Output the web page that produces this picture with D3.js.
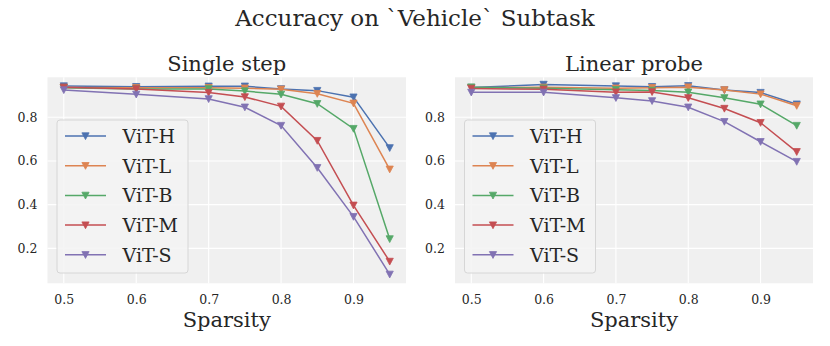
<!DOCTYPE html>
<html><head><meta charset="utf-8">
<script src="https://cdn.jsdelivr.net/npm/d3@7"></script>
<style>body{margin:0;background:#fff;} svg{display:block;font-family:"DejaVu Serif",serif;}</style>
</head><body>
<svg id="c" width="830" height="346"></svg>
<script>
const sparsity = [0.5, 0.6, 0.7, 0.75, 0.8, 0.85, 0.9, 0.95];
const models = ["ViT-H", "ViT-L", "ViT-B", "ViT-M", "ViT-S"];
const colors = ["#4C72B0", "#DD8452", "#55A868", "#C44E52", "#8172B3"];
const xTicks = [0.5, 0.6, 0.7, 0.8, 0.9];
const yTicks = [0.2, 0.4, 0.6, 0.8];
const panelTitles = ["Single step", "Linear probe"];
const singleStep = {
  "ViT-H": [0.943, 0.940, 0.942, 0.942, 0.930, 0.922, 0.892, 0.660],
  "ViT-L": [0.936, 0.935, 0.935, 0.933, 0.928, 0.908, 0.864, 0.562],
  "ViT-B": [0.935, 0.930, 0.930, 0.920, 0.905, 0.862, 0.748, 0.243],
  "ViT-M": [0.937, 0.930, 0.913, 0.893, 0.850, 0.693, 0.397, 0.140],
  "ViT-S": [0.925, 0.905, 0.884, 0.846, 0.762, 0.569, 0.345, 0.081]
};
const linearProbe = {
  "ViT-H": [0.936, 0.950, 0.943, 0.940, 0.944, 0.925, 0.913, 0.860],
  "ViT-L": [0.935, 0.937, 0.933, 0.935, 0.938, 0.925, 0.906, 0.853],
  "ViT-B": [0.938, 0.933, 0.926, 0.923, 0.915, 0.889, 0.860, 0.762],
  "ViT-M": [0.932, 0.928, 0.915, 0.916, 0.889, 0.840, 0.775, 0.642],
  "ViT-S": [0.914, 0.914, 0.889, 0.875, 0.846, 0.780, 0.688, 0.597]
};
const panelData = [singleStep, linearProbe];

const svg = d3.select("#c");
svg.append("text").attr("x", 415).attr("y", 26).attr("text-anchor", "middle")
  .attr("font-size", 23).attr("fill", "#262626").text("Accuracy on `Vehicle` Subtask");

const plotTop = 77.3, plotBottom = 283.3;
const panels = [{x0: 47.5, x1: 406}, {x0: 455, x1: 813}];
const y = d3.scaleLinear().domain([0.04, 0.983]).range([plotBottom, plotTop]);
const tri = "M-3.6,-3.2L3.6,-3.2L0,3.6Z";

panels.forEach((p, pi) => {
  const x = d3.scaleLinear().domain([0.4775, 0.9725]).range([p.x0, p.x1]);
  const g = svg.append("g");
  g.append("rect").attr("x", p.x0).attr("y", plotTop).attr("width", p.x1 - p.x0).attr("height", plotBottom - plotTop).attr("fill", "#f0f0f0");
  g.selectAll(".gx").data(xTicks).join("line").attr("x1", d => x(d)).attr("x2", d => x(d))
    .attr("y1", plotTop).attr("y2", plotBottom).attr("stroke", "#fff").attr("stroke-width", 1.1);
  g.selectAll(".gy").data(yTicks).join("line").attr("y1", d => y(d)).attr("y2", d => y(d))
    .attr("x1", p.x0).attr("x2", p.x1).attr("stroke", "#fff").attr("stroke-width", 1.1);
  const xa = g.append("g").attr("transform", `translate(0,${plotBottom})`)
    .call(d3.axisBottom(x).tickValues(xTicks).tickSize(0).tickPadding(12).tickFormat(d3.format(".1f")));
  xa.select(".domain").remove();
  xa.selectAll("text").attr("font-size", 12.5).attr("fill", "#262626").attr("font-family", "DejaVu Serif");
  const ya = g.append("g").attr("transform", `translate(${p.x0},0)`)
    .call(d3.axisLeft(y).tickValues(yTicks).tickSize(0).tickPadding(10).tickFormat(d3.format(".1f")));
  ya.select(".domain").remove();
  ya.selectAll("text").attr("font-size", 12.5).attr("fill", "#262626").attr("font-family", "DejaVu Serif");

  g.append("text").attr("x", (p.x0 + p.x1) / 2).attr("y", 71).attr("text-anchor", "middle")
    .attr("font-size", 21).attr("fill", "#262626").text(panelTitles[pi]);
  g.append("text").attr("x", (p.x0 + p.x1) / 2).attr("y", 327).attr("text-anchor", "middle")
    .attr("font-size", 21).attr("fill", "#262626").text("Sparsity");

  const data = panelData[pi];
  const line = d3.line().x((d, i) => x(sparsity[i])).y(d => y(d));
  models.forEach((m, mi) => {
    g.append("path").datum(data[m]).attr("d", line).attr("fill", "none")
      .attr("stroke", colors[mi]).attr("stroke-width", 1.5);
    g.selectAll(null).data(data[m]).join("path")
      .attr("transform", (d, i) => `translate(${x(sparsity[i])},${y(d)})`)
      .attr("d", tri).attr("fill", colors[mi]).attr("stroke", colors[mi]).attr("stroke-width", 0.8);
  });

  const lx = p.x0 + 9.5, ly = 120;
  const lg = g.append("g");
  lg.append("rect").attr("x", lx).attr("y", ly).attr("width", 131).attr("height", 153).attr("rx", 3)
    .attr("fill", "#f3f3f3").attr("fill-opacity", 0.85).attr("stroke", "#d6d6d6").attr("stroke-width", 1);
  models.forEach((m, mi) => {
    const cy = 136 + mi * 29.7;
    lg.append("line").attr("x1", lx + 8).attr("x2", lx + 49).attr("y1", cy).attr("y2", cy)
      .attr("stroke", colors[mi]).attr("stroke-width", 1.5);
    lg.append("path").attr("transform", `translate(${lx + 28.5},${cy})`).attr("d", tri)
      .attr("fill", colors[mi]).attr("stroke", colors[mi]).attr("stroke-width", 0.8);
    lg.append("text").attr("x", lx + 65.5).attr("y", cy + 7).attr("font-size", 19)
      .attr("fill", "#262626").text(m);
  });
});
</script>
</body></html>
